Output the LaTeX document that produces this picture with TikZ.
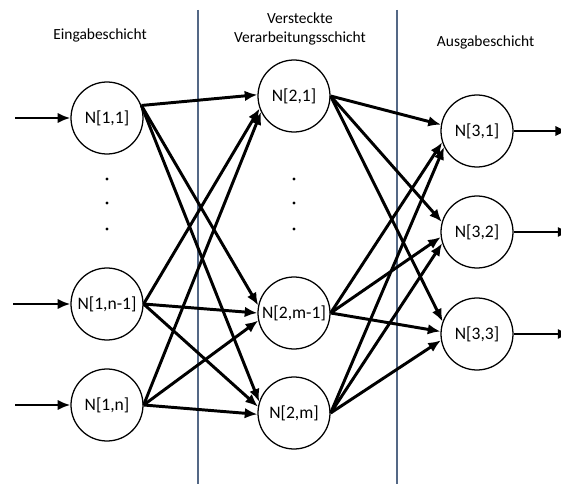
\documentclass[tikz,border=0pt]{standalone}
\usepackage{fontspec}
\setmainfont{Carlito}
\usepackage{xcolor}
\usepackage{tikz}
\usetikzlibrary{positioning, arrows.meta, calc}

\definecolor{sepblue}{RGB}{84,104,134}

\begin{document}
\begin{tikzpicture}[
  every node/.style={font=\fontsize{12.5}{15}\selectfont},
  neuron/.style={draw, circle, line width=0.9pt, minimum size=1.8cm, inner sep=0pt},
  layertitle/.style={align=center, font=\fontsize{11}{13.5}\selectfont},
  dot/.style={circle, fill=black, inner sep=0pt, minimum size=2.2pt},
  sep/.style={draw=sepblue, line width=0.8pt},
  arrow/.style={-{Latex[length=9pt, width=7.5pt]}, line width=2.1pt}
]
\useasboundingbox (0,0) rectangle (14.025,-12.1);

% Layer titles
\node[layertitle] (t1) at (2.5, -0.875) {Eingabeschicht};
\node[layertitle] (t2) at (7.5, -0.72) {Versteckte\\Verarbeitungsschicht};
\node[layertitle] (t3) at (12.14, -1.05) {Ausgabeschicht};

% Separators
\draw[sep] (4.95, -0.25) -- (4.95, -12.1);
\draw[sep] (9.925, -0.25) -- (9.925, -12.1);

% Input layer
\node[neuron] (n11) at (2.675, -2.95) {N[1,1]};
\node[neuron] (n1a) at (2.675, -7.6) {N[1,n-1]};
\node[neuron] (n1n) at (2.675, -10.125) {N[1,n]};
\node[dot] (d1a) at (2.675, -4.475) {};
\node[dot] (d1b) at (2.675, -5.075) {};
\node[dot] (d1c) at (2.675, -5.725) {};

% Hidden layer
\node[neuron] (n21) at (7.35, -2.4) {N[2,1]};
\node[neuron] (n2a) at (7.35, -7.825) {N[2,m-1]};
\node[neuron] (n2m) at (7.35, -10.325) {N[2,m]};
\node[dot] (d2a) at (7.35, -4.475) {};
\node[dot] (d2b) at (7.35, -5.075) {};
\node[dot] (d2c) at (7.35, -5.725) {};

% Output layer
\node[neuron] (n31) at (11.925, -3.275) {N[3,1]};
\node[neuron] (n32) at (11.925, -5.8) {N[3,2]};
\node[neuron] (n33) at (11.925, -8.35) {N[3,3]};

% Inputs and outputs
\coordinate (i1) at (0.375, -2.95);
\coordinate (i2) at (0.33, -7.6);
\coordinate (i3) at (0.375, -10.125);
\coordinate (o1) at (14.2, -3.275);
\coordinate (o2) at (14.26, -5.8);
\coordinate (o3) at (14.26, -8.35);
\draw[arrow] (i1) -- (n11);
\draw[arrow] (i2) -- (n1a);
\draw[arrow] (i3) -- (n1n);
\draw[arrow] (n31) -- (o1);
\draw[arrow] (n32) -- (o2);
\draw[arrow] (n33) -- (o3);

% Input -> hidden
\draw[arrow] (n11.20) -- (n21.178);
\draw[arrow] (n11.20) -- (n2a.168);
\draw[arrow] (n11.20) -- (n2m.162);
\draw[arrow] (n1a.east) -- (n21.200);
\draw[arrow] (n1a.east) -- (n2a.180);
\draw[arrow] (n1a.east) -- (n2m.170);
\draw[arrow] (n1n.east) -- (n21.206);
\draw[arrow] (n1n.east) -- (n2a.192);
\draw[arrow] (n1n.east) -- (n2m.182);

% Hidden -> output
\draw[arrow] (n21.east) -- (n31.170);
\draw[arrow] (n21.east) -- (n32.164);
\draw[arrow] (n21.east) -- (n33.160);
\draw[arrow] (n2a.east) -- (n31.198);
\draw[arrow] (n2a.east) -- (n32.188);
\draw[arrow] (n2a.east) -- (n33.176);
\draw[arrow] (n2m.east) -- (n31.206);
\draw[arrow] (n2m.east) -- (n32.198);
\draw[arrow] (n2m.east) -- (n33.190);

\end{tikzpicture}
\end{document}
